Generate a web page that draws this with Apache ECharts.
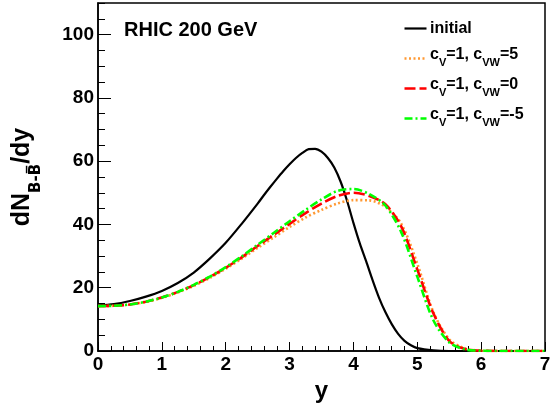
<!DOCTYPE html>
<html>
<head>
<meta charset="utf-8">
<script src="https://cdn.jsdelivr.net/npm/echarts@6/dist/echarts.min.js"></script>
<style>html,body{margin:0;padding:0;background:#fff}#c{width:555px;height:407px}</style>
</head>
<body>
<div id="c"></div>
<script>
// rapidity grid
var xs = [0,0.25,0.5,0.75,1,1.25,1.5,1.75,2,2.25,2.5,2.75,3,3.25,3.5,3.75,4,4.25,4.5,4.75,5,5.25,5.5,5.75,6,6.25,6.5,6.75,7];
// initial distribution, read on a finer grid around the peak
var xsInitial = [0,0.25,0.5,0.75,1,1.25,1.5,1.75,2,2.25,2.5,2.6,2.7,2.8,2.9,3.0,3.1,3.2,3.3,3.4,3.5,3.6,3.7,3.8,3.9,4.0,4.1,4.2,4.3,4.4,4.5,4.6,4.7,4.8,4.9,5.0,5.25,5.5,6,6.5,7];
var initial   = [14.4,14.8,15.8,17.2,19.0,21.5,24.8,29.2,34.2,40.2,46.6,49.3,51.9,54.4,56.8,59.0,61.0,62.6,63.8,63.9,63.0,61.0,58.0,53.5,47.5,40.5,34.0,28.3,22.4,16.9,12.3,8.5,5.4,3.2,1.8,0.9,0.2,0,0,0,0];
var cvw5  = [14.2,14.3,14.7,15.5,16.8,18.5,20.6,23.1,26.0,29.2,32.6,35.9,39.2,42.2,44.6,46.6,47.7,47.6,45.6,40.2,27.6,12.4,3.7,0.8,0.1,0,0,0,0];
var cvw0  = [14.2,14.3,14.7,15.6,16.9,18.7,20.8,23.4,26.3,29.6,33.2,36.7,40.2,43.6,46.6,49.0,50.0,49.0,46.4,39.3,25.8,12.0,3.2,0.6,0.1,0,0,0,0];
var cvwm5 = [14.2,14.3,14.7,15.6,16.9,18.7,20.9,23.5,26.5,29.9,33.6,37.3,41.0,44.6,47.9,50.6,51.2,49.6,46.0,37.5,23.5,9.8,2.7,0.5,0.1,0,0,0,0];
var names = ['initial','c{s|V}=1, c{s|VW}=5','c{s|V}=1, c{s|VW}=0','c{s|V}=1, c{s|VW}=-5'];
var colors = ['#000000','#ff9933','#ff0000','#00ff00'];
var dashes = [null,[2,2.5],[11,4],[8,3,2,3]];

function pairs(x, y){ return x.map(function(v,i){return [v,y[i]];}); }
var FF = '"Liberation Sans", Arial, sans-serif';

// legend drawn as graphic (line sample + rich text)
var legendGraphics = [];
names.forEach(function(n,i){
  var yc = 27 + i*30;
  var ls = {stroke:colors[i],lineWidth:i===0?2.2:2.6};
  if (dashes[i]) ls.lineDash = dashes[i];
  legendGraphics.push({type:'line',left:402,top:yc-1,shape:{x1:0,y1:0,x2:22,y2:0},style:ls,silent:true});
  legendGraphics.push({type:'text',left:430,top:i===0?yc-6:yc-10,style:{
    text:n, fill:'#000', font:'bold 16px '+FF,
    rich:{s:{fontFamily:FF,fontWeight:'bold',fontSize:11,fill:'#000',verticalAlign:'bottom',lineHeight:26}}
  }});
});

var tickStyle = {color:'#000',width:1};
var chart = echarts.init(document.getElementById('c'));
chart.setOption({
  animation:false,
  grid:{left:98,right:10,top:3,bottom:56,outerBoundsMode:'none',containLabel:false,show:true,borderColor:'#000',borderWidth:1.5,backgroundColor:'transparent'},
  title:{text:'RHIC 200 GeV',left:119,top:15,textStyle:{fontFamily:FF,fontWeight:'bold',fontSize:20,color:'#000'}},
  graphic:legendGraphics,
  xAxis:[{type:'value',min:0,max:7,interval:1,position:'bottom',
    name:'y',nameLocation:'middle',nameGap:27,
    nameTextStyle:{fontFamily:FF,fontWeight:'bold',fontSize:24,color:'#000'},
    axisLine:{show:true,lineStyle:{color:'#000',width:1.5}},
    axisTick:{show:true,inside:true,length:9,lineStyle:tickStyle},
    axisLabel:{margin:4,fontFamily:FF,fontWeight:'bold',fontSize:19,color:'#000'},
    splitLine:{show:false}},
   {type:'value',min:0,max:7,interval:0.2,position:'bottom',offset:0,
    axisLine:{show:false},axisLabel:{show:false},splitLine:{show:false},
    axisTick:{show:true,inside:true,length:5,lineStyle:tickStyle}}],
  yAxis:[{type:'value',min:0,max:110,interval:20,position:'left',
    name:'{m|dN}{s|B-B\u0305}{m|/dy}',nameLocation:'middle',nameRotate:90,nameGap:54,
    nameTextStyle:{rich:{
      m:{fontFamily:FF,fontWeight:'bold',fontSize:25,color:'#000',verticalAlign:'top',lineHeight:34},
      s:{fontFamily:'"DejaVu Sans", sans-serif',fontWeight:'bold',fontSize:15,color:'#000',verticalAlign:'bottom',lineHeight:34}}},
    axisLine:{show:true,lineStyle:{color:'#000',width:1.5}},
    axisTick:{show:true,inside:true,length:13,lineStyle:tickStyle},
    axisLabel:{margin:4,showMaxLabel:false,fontFamily:FF,fontWeight:'bold',fontSize:19,color:'#000'},
    splitLine:{show:false}},
   {type:'value',min:0,max:110,interval:5,position:'left',offset:0,
    axisLine:{show:false},axisLabel:{show:false},splitLine:{show:false},
    axisTick:{show:true,inside:true,length:7,lineStyle:tickStyle}}],
  series:[
    {name:'initial',type:'line',smooth:0.3,symbol:'none',data:pairs(xsInitial,initial),
      lineStyle:{color:colors[0],width:2.2}},
    {name:'cvw5',type:'line',smooth:0.3,symbol:'none',data:pairs(xs,cvw5),
      lineStyle:{color:colors[1],width:2.6,type:dashes[1]}},
    {name:'cvw0',type:'line',smooth:0.3,symbol:'none',data:pairs(xs,cvw0),
      lineStyle:{color:colors[2],width:2.6,type:dashes[2]}},
    {name:'cvwm5',type:'line',smooth:0.3,symbol:'none',data:pairs(xs,cvwm5),
      lineStyle:{color:colors[3],width:2.6,type:dashes[3]}}
  ]
});
</script>
</body>
</html>
